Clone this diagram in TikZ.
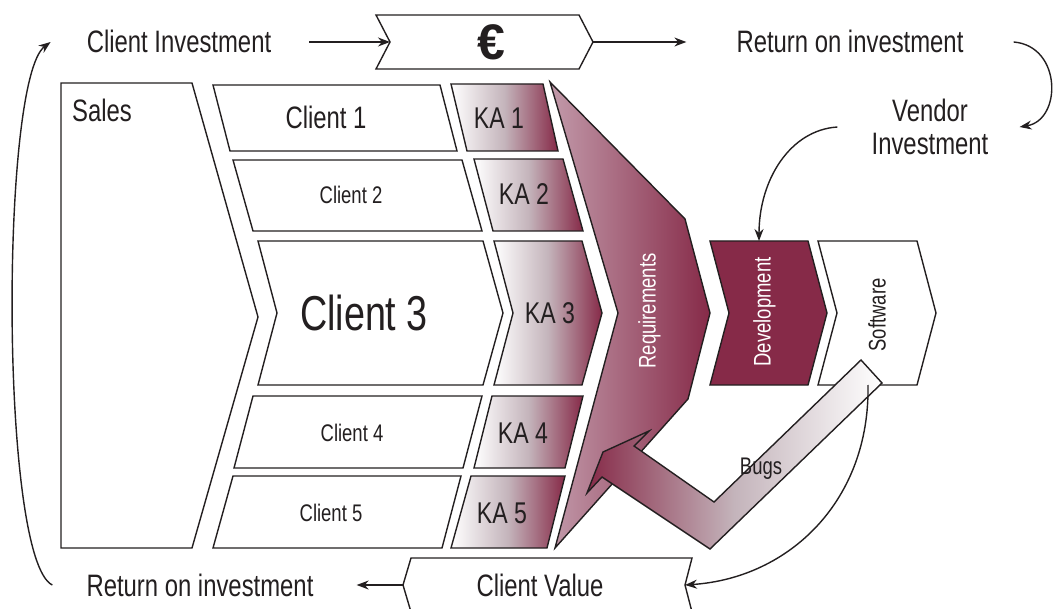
\documentclass[tikz,border=0pt]{standalone}
\usepackage{fontspec}
\setmainfont{Liberation Sans}[FakeStretch=0.77]
\newfontfamily\eurofont{Liberation Sans}
\usetikzlibrary{arrows.meta}
\definecolor{wine}{RGB}{134,42,72}
\definecolor{rose}{RGB}{194,154,170}
\definecolor{mist}{RGB}{196,180,187}
\definecolor{ink}{RGB}{35,31,32}
\begin{document}
\begin{tikzpicture}[x=1pt,y=-1pt]
	\tikzset{box/.style={draw=ink,line width=1.4pt,fill=white},
		ka box/.style={box,left color=white,right color=wine,middle color=mist},
		big/.style={text=ink,inner sep=0pt,text height=22pt,text depth=0pt,font=\fontsize{31}{33}\selectfont},
		mid/.style={text=ink,inner sep=0pt,text height=17pt,text depth=0pt,font=\fontsize{24}{26}\selectfont},
		ka/.style={text=ink,inner sep=0pt,text height=21pt,text depth=0pt,font=\fontsize{30}{32}\selectfont},
		flow/.style={draw=ink,line width=1.4pt,-{Stealth[length=12pt,width=9pt]}}}
	\useasboundingbox (0,0) rectangle (1054,609);

	\draw [box] (376,15) -- (579,15) -- (593,42) coordinate (euror) -- (579,69) -- (376,69) -- (390,42) coordinate (eurol) -- cycle;
	\draw [box] (411,558) -- (692,558) -- (685,585) coordinate (cvale) -- (692,612) -- (411,612) -- (403,585) coordinate (cvalw) -- cycle;

	\draw [box] (61,83) -- (192,83) -- (258,317) -- (192,548) -- (61,548) -- cycle;
	\draw [box] (213,85) -- (440,85) -- (457,151) -- (230,151) -- cycle;
	\draw [box] (233,160) -- (462,160) -- (482,231) -- (253,231) -- cycle;
	\draw [box] (258,241) -- (483,241) -- (503,313) -- (483,385) -- (258,385) -- (277,313) -- cycle;
	\draw [box] (253,396) -- (482,396) -- (463,468) -- (234,468) -- cycle;
	\draw [box] (233,476) -- (461,476) -- (442,548) -- (213,548) -- cycle;

	\draw [ka box] (451,84) -- (543,84) -- (558,151) -- (467,151) -- cycle;
	\draw [ka box] (474,159) -- (563,159) -- (583,231) -- (493,231) -- cycle;
	\draw [ka box] (494,241) -- (582,241) -- (602,313) -- (582,385) -- (494,385) -- (513,313) -- cycle;
	\draw [ka box] (492,396) -- (583,396) -- (565,468) -- (474,468) -- cycle;
	\draw [ka box] (471,476) -- (565,476) -- (547,548) -- (451,548) -- cycle;

	\draw [box,left color=rose,right color=wine] (550,82) -- (685,219) -- (710,313) -- (688,399) -- (555,548) -- (618,313) -- cycle;
	\draw [box,fill=wine] (710,241) -- (808,241) -- (827,313) -- (808,385) -- (710,385) -- (729,313) -- cycle;
	\coordinate (devn) at (759,241);
	\draw [box] (818,241) -- (917,241) -- (936,313) -- (917,385) -- (818,385) -- (837,313) -- cycle;
	\coordinate (sws) at (868,385);
	\draw [box,left color=wine,right color=white,middle color=mist] (861,360) -- (882,383) -- (710,549) -- (602,477) -- (587,493) -- (603,452) -- (649,431) -- (634,446) -- (714,502) -- cycle;

	\node [big]			(cinv)		at (179,42)		{Client Investment};
	\node [inner sep=0pt,text=ink]	(euro)	at (491,42)	{\eurofont\bfseries\fontsize{50}{50}\selectfont €};
	\node [big]			(roitop)	at (850,42)		{Return on investment};
	\node [big,text height=,text depth=,align=center]	(vinv)	at (930,127)	{Vendor\\Investment};
	\node [big,anchor=west]	(sales)	at (72,111)		{Sales};
	\node [big]			(c1)		at (326,118)	{Client 1};
	\node [mid]			(c2)		at (351,195)	{Client 2};
	\node [text=ink,inner sep=0pt,text height=35pt,text depth=0pt,font=\fontsize{49}{51}\selectfont]	(c3)	at (364,313)	{Client 3};
	\node [mid]			(c4)		at (352,433)	{Client 4};
	\node [mid]			(c5)		at (331,513)	{Client 5};
	\node [ka]			(ka1)		at (499,118)	{KA 1};
	\node [ka]			(ka2)		at (524,194)	{KA 2};
	\node [ka]			(ka3)		at (550,313)	{KA 3};
	\node [ka]			(ka4)		at (523,433)	{KA 4};
	\node [ka]			(ka5)		at (502,513)	{KA 5};
	\node [mid,text=white,rotate=90]	(req)	at (647,311)	{Requirements};
	\node [mid,text=white,rotate=90]	(dev)	at (762,312)	{Development};
	\node [mid,rotate=90]	(sw)		at (877,315)	{Software};
	\node [mid]			(bugs)		at (761,466)	{Bugs};
	\node [big]			(cval)		at (540,585)	{Client Value};
	\node [big]			(roibot)	at (200,585)	{Return on investment};

	\draw [flow] ([xshift=38pt]cinv.east) -- (eurol);
	\draw [flow] (euror) -- ([xshift=-50pt]roitop.west);
	\draw [flow] ([xshift=50pt]roitop.east) .. controls (1062,46) and (1062,120) .. ([xshift=31pt]vinv.east);
	\draw [flow] ([xshift=-34pt]vinv.west) .. controls (790,130) and (759,180) .. (devn);
	\draw [flow] (sws) .. controls (870,500) and (790,578) .. (cvale);
	\draw [flow] (cvalw) -- ([xshift=43pt]roibot.east);
	\draw [flow] ([xshift=-34pt]roibot.west) .. controls (0,560) and (0,80) .. ([xshift=-36pt]cinv.west);
\end{tikzpicture}
\end{document}
